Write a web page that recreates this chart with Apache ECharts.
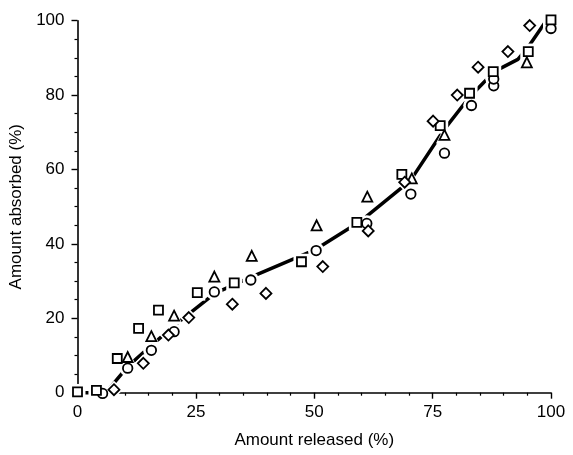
<!DOCTYPE html>
<html>
<head>
<meta charset="utf-8">
<script src="https://cdn.jsdelivr.net/npm/echarts@6/dist/echarts.min.js"></script>
<style>
html,body{margin:0;padding:0;background:#fff;}
#c{width:573px;height:455px;}
</style>
</head>
<body>
<div id="c"></div>
<script>
// ---- data ----
var circleX = [5.3, 10.6, 15.6, 20.4, 28.9, 36.6, 50.4, 61.1, 70.4, 77.5, 83.2, 87.9, 87.9, 100];
var circleY = [-0.2, 6.6, 11.4, 16.4, 27.1, 30.3, 38.2, 45.5, 53.4, 64.4, 77.2, 82.5, 84.3, 97.9];

var squareX = [0, 4.0, 8.4, 12.9, 17.1, 25.3, 33.1, 47.3, 59.0, 68.5, 76.6, 82.8, 87.8, 95.2, 100];
var squareY = [0.2, 0.6, 9.2, 17.3, 22.2, 26.9, 29.5, 35.2, 45.8, 58.7, 71.8, 80.5, 86.3, 91.7, 100.2];

var triangleX = [10.6, 15.6, 20.4, 28.9, 36.8, 50.5, 61.2, 70.6, 77.5, 94.9];
var triangleY = [9.6, 15.2, 20.7, 31.2, 36.8, 45.0, 52.7, 57.6, 69.3, 88.8];

var diamondX = [7.7, 13.9, 19.2, 23.5, 32.7, 39.8, 51.8, 61.4, 69.1, 75.1, 80.2, 84.6, 90.9, 95.5];
var diamondY = [0.8, 7.9, 15.5, 20.2, 23.8, 26.7, 33.9, 43.5, 56.6, 73.0, 80.0, 87.5, 91.7, 98.7];

var lineX = [0, 6, 10.6, 15.5, 20.4, 29, 36.5, 50, 60, 70.3, 77.3, 82.8, 88, 93, 95, 99];
var lineY = [0, 0, 7, 12.6, 18, 26.7, 31, 38.3, 46.3, 57, 70.5, 79.5, 86.3, 89.6, 92.6, 100];

var xTicks = [0, 25, 50, 75, 100];
var yTicks = [0, 20, 40, 60, 80, 100];

function pairs(xs, ys) { return xs.map(function (x, i) { return [x, ys[i]]; }); }

var FONT = 'Liberation Sans, Arial, Helvetica, sans-serif';
var markers = [
  { name: 'circle', sym: 'circle', size: 9.5, x: circleX, y: circleY },
  { name: 'square', sym: 'rect', size: 9, x: squareX, y: squareY },
  { name: 'triangle', sym: 'triangle', size: 10, x: triangleX, y: triangleY },
  { name: 'diamond', sym: 'diamond', size: 11, x: diamondX, y: diamondY }
];

var series = [{
  type: 'line',
  data: pairs(lineX, lineY),
  symbol: 'none',
  lineStyle: { color: '#000', width: 3.5 },
  z: 1, clip: false,
  silent: true,
  animation: false
}];
markers.forEach(function (m) {
  series.push({
    type: 'scatter', data: pairs(m.x, m.y), symbol: m.sym, symbolSize: m.size + 7,
    itemStyle: { color: '#fff', borderColor: '#fff', borderWidth: 0, opacity: 1 },
    z: 2, clip: false, silent: true, animation: false
  });
});
markers.forEach(function (m) {
  series.push({
    type: 'scatter', data: pairs(m.x, m.y), symbol: m.sym, symbolSize: m.size,
    itemStyle: { color: '#fff', borderColor: '#000', borderWidth: 1.8, opacity: 1 },
    z: 3, clip: false, silent: true, animation: false
  });
});

var chart = echarts.init(document.getElementById('c'), null, { renderer: 'canvas' });
chart.setOption({
  backgroundColor: '#fff',
  animation: false,
  grid: { left: 77.5, right: 22, top: 20.7, bottom: 62.3, containLabel: false },
  xAxis: {
    type: 'value', min: 0, max: 100, interval: 25,
    name: 'Amount released (%)', nameLocation: 'middle', nameGap: 39,
    nameTextStyle: { color: '#000', fontSize: 17, fontFamily: FONT },
    axisLine: { show: true, onZero: false, lineStyle: { color: '#000', width: 1.6 } },
    axisTick: { show: true, inside: false, length: 6, lineStyle: { color: '#000', width: 1.4 } },
    minorTick: { show: true, splitNumber: 5, length: 3, lineStyle: { color: '#000', width: 1.2 } },
    axisLabel: { color: '#000', fontSize: 17, fontFamily: FONT, margin: 11,
      formatter: function (v) { return xTicks.indexOf(v) >= 0 ? String(v) : ''; } },
    splitLine: { show: false }
  },
  yAxis: {
    type: 'value', min: 0, max: 100, interval: 20,
    name: 'Amount absorbed (%)', nameLocation: 'middle', nameGap: 50,
    nameTextStyle: { color: '#000', fontSize: 17, fontFamily: FONT },
    axisLine: { show: true, onZero: false, lineStyle: { color: '#000', width: 1.6 } },
    axisTick: { show: true, inside: false, length: 6, lineStyle: { color: '#000', width: 1.4 } },
    minorTick: { show: true, splitNumber: 4, length: 3, lineStyle: { color: '#000', width: 1.2 } },
    axisLabel: { color: '#000', fontSize: 17, fontFamily: FONT, margin: 13,
      formatter: function (v) { return yTicks.indexOf(v) >= 0 ? String(v) : ''; } },
    splitLine: { show: false }
  },
  series: series
});
</script>
</body>
</html>
